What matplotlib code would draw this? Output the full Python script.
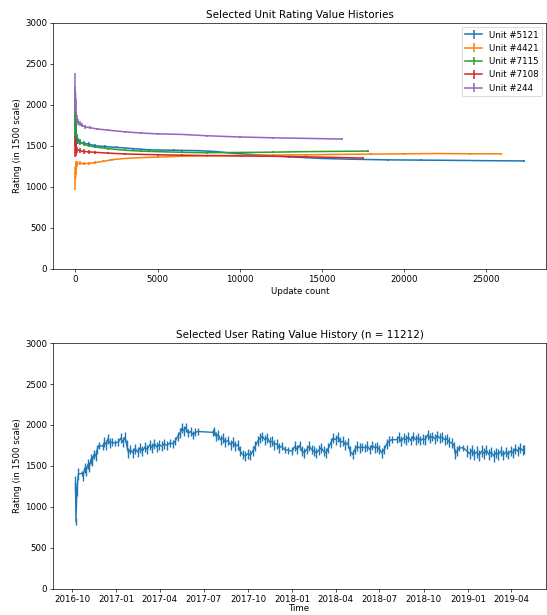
import numpy as np
import pandas as pd
import matplotlib
matplotlib.use("Agg")
import matplotlib.pyplot as plt

# ---- unit rating histories (update count, rating, error) ----
unit_names = ["Unit #5121", "Unit #4421", "Unit #7115", "Unit #7108", "Unit #244"]

u5121_x = [0, 30, 80, 150, 300, 500, 800, 1200, 1800, 2500, 3500, 4500, 6000, 7500, 8500,
           9500, 11000, 13000, 15000, 17000, 19000, 21000, 23000, 25000, 27300]
u5121_y = [1800, 1650, 1580, 1560, 1540, 1530, 1520, 1500, 1490, 1480, 1465, 1450, 1445, 1440, 1430,
           1410, 1390, 1365, 1345, 1335, 1328, 1325, 1322, 1318, 1315]
u5121_e = [300, 100, 60, 40, 30, 25, 20, 18, 15, 12, 12, 10, 10, 10, 10,
           10, 10, 10, 10, 10, 10, 10, 10, 10, 10]

u4421_x = [0, 20, 60, 120, 250, 500, 800, 1200, 1700, 2200, 3000, 4000, 5000, 6500, 8000,
           10000, 12000, 14000, 16000, 18000, 20000, 22000, 24000, 25900]
u4421_y = [1100, 1220, 1260, 1280, 1290, 1280, 1285, 1295, 1310, 1330, 1345, 1355, 1362, 1372, 1378,
           1383, 1386, 1390, 1395, 1398, 1402, 1405, 1402, 1402]
u4421_e = [140, 80, 50, 40, 30, 20, 15, 15, 12, 12, 10, 10, 10, 10, 10,
           10, 10, 10, 10, 10, 10, 10, 10, 10]

u7115_x = [0, 20, 60, 120, 250, 500, 800, 1200, 2000, 3000, 4000, 5000, 6500, 8000, 10000,
           12000, 14000, 16000, 17800]
u7115_y = [1900, 1700, 1620, 1580, 1550, 1520, 1500, 1485, 1465, 1445, 1435, 1428, 1420, 1415, 1418,
           1422, 1428, 1432, 1435]
u7115_e = [320, 120, 60, 40, 30, 25, 20, 15, 12, 12, 10, 10, 10, 10, 10,
           10, 10, 10, 10]

u7108_x = [0, 20, 60, 120, 250, 500, 800, 1200, 2000, 3000, 4000, 5000, 6500, 8000, 10000,
           12000, 14000, 16000, 17500]
u7108_y = [1490, 1480, 1460, 1450, 1440, 1430, 1425, 1420, 1410, 1400, 1395, 1390, 1385, 1380, 1375,
           1372, 1365, 1357, 1350]
u7108_e = [130, 100, 60, 40, 30, 25, 20, 15, 12, 12, 10, 10, 10, 10, 10,
           10, 10, 10, 10]

u244_x = [0, 15, 40, 80, 150, 250, 400, 600, 900, 1300, 2000, 3000, 4000, 5000, 6500,
          8000, 10000, 12000, 14000, 16200]
u244_y = [2150, 1950, 1870, 1830, 1790, 1770, 1750, 1730, 1720, 1705, 1690, 1670, 1655, 1645, 1638,
          1622, 1607, 1597, 1590, 1582]
u244_e = [240, 120, 60, 50, 40, 30, 25, 20, 15, 12, 10, 10, 10, 10, 10,
          10, 10, 10, 10, 10]

# ---- single user rating history (date, rating, error) ----
user_dates = [
    "2016-10-08", "2016-10-09", "2016-10-11", "2016-10-14", "2016-10-22", "2016-10-24", "2016-10-27",
    "2016-10-30", "2016-11-03", "2016-11-06", "2016-11-09", "2016-11-12", "2016-11-15", "2016-11-19",
    "2016-11-22", "2016-11-26", "2016-12-04", "2016-12-07", "2016-12-11", "2016-12-14", "2016-12-18",
    "2016-12-22", "2016-12-28", "2017-01-05", "2017-01-10", "2017-01-14", "2017-01-19", "2017-01-22",
    "2017-01-26", "2017-01-30", "2017-02-04", "2017-02-09", "2017-02-14", "2017-02-19", "2017-02-24",
    "2017-03-01", "2017-03-06", "2017-03-11", "2017-03-16", "2017-03-21", "2017-03-26", "2017-03-31",
    "2017-04-05", "2017-04-10", "2017-04-16", "2017-04-22", "2017-04-28", "2017-05-03", "2017-05-08",
    "2017-05-13", "2017-05-17", "2017-05-21", "2017-05-25", "2017-05-30", "2017-06-04", "2017-06-09",
    "2017-06-14", "2017-06-19", "2017-07-20", "2017-07-23", "2017-07-27", "2017-07-31", "2017-08-05",
    "2017-08-10", "2017-08-15", "2017-08-20", "2017-08-26", "2017-08-31", "2017-09-05", "2017-09-10",
    "2017-09-15", "2017-09-20", "2017-09-25", "2017-10-01", "2017-10-06", "2017-10-11", "2017-10-16",
    "2017-10-21", "2017-10-26", "2017-10-31", "2017-11-05", "2017-11-10", "2017-11-15", "2017-11-20",
    "2017-11-25", "2017-11-30", "2017-12-05", "2017-12-10", "2017-12-16", "2017-12-24", "2018-01-01",
    "2018-01-06", "2018-01-11", "2018-01-16", "2018-01-21", "2018-01-26", "2018-01-31", "2018-02-05",
    "2018-02-10", "2018-02-15", "2018-02-20", "2018-02-25", "2018-03-02", "2018-03-07", "2018-03-12",
    "2018-03-17", "2018-03-22", "2018-03-27", "2018-04-01", "2018-04-06", "2018-04-11", "2018-04-16",
    "2018-04-21", "2018-04-26", "2018-05-01", "2018-05-06", "2018-05-11", "2018-05-16", "2018-05-21",
    "2018-05-26", "2018-06-01", "2018-06-06", "2018-06-11", "2018-06-16", "2018-06-21", "2018-06-26",
    "2018-07-01", "2018-07-06", "2018-07-11", "2018-07-16", "2018-07-21", "2018-07-26", "2018-08-06",
    "2018-08-10", "2018-08-15", "2018-08-20", "2018-08-25", "2018-08-30", "2018-09-04", "2018-09-09",
    "2018-09-14", "2018-09-19", "2018-09-24", "2018-09-29", "2018-10-04", "2018-10-09", "2018-10-14",
    "2018-10-19", "2018-10-24", "2018-10-29", "2018-11-03", "2018-11-08", "2018-11-13", "2018-11-18",
    "2018-11-23", "2018-11-28", "2018-12-03", "2018-12-05", "2018-12-09", "2018-12-13", "2018-12-22",
    "2018-12-30", "2019-01-04", "2019-01-09", "2019-01-14", "2019-01-19", "2019-01-24", "2019-01-29",
    "2019-02-03", "2019-02-08", "2019-02-13", "2019-02-18", "2019-02-23", "2019-02-28", "2019-03-05",
    "2019-03-10", "2019-03-15", "2019-03-20", "2019-03-25", "2019-03-30", "2019-04-04", "2019-04-09",
    "2019-04-14", "2019-04-19", "2019-04-24", "2019-04-27",
]
user_rating = [
    1280, 820, 1220, 1400, 1410, 1380, 1470,
    1440, 1520, 1490, 1580, 1560, 1640, 1620,
    1700, 1750, 1740, 1790, 1760, 1830, 1780,
    1790, 1780, 1790, 1840, 1790, 1850, 1760,
    1660, 1700, 1660, 1710, 1670, 1720, 1680,
    1730, 1700, 1760, 1720, 1770, 1730, 1760,
    1740, 1770, 1750, 1780, 1770, 1800, 1860,
    1900, 1960, 1930, 1970, 1900, 1920, 1880,
    1910, 1920, 1910, 1930, 1860, 1880, 1820,
    1840, 1790, 1810, 1760, 1790, 1740, 1760,
    1680, 1640, 1620, 1650, 1630, 1680, 1740,
    1800, 1840, 1860, 1820, 1840, 1790, 1800,
    1760, 1770, 1720, 1740, 1700, 1690, 1680,
    1740, 1700, 1750, 1680, 1660, 1700, 1740,
    1700, 1680, 1660, 1690, 1720, 1680, 1660,
    1720, 1780, 1840, 1820, 1850, 1790, 1800,
    1760, 1780, 1680, 1640, 1700, 1740, 1720,
    1730, 1720, 1740, 1700, 1750, 1720, 1730,
    1700, 1660, 1700, 1770, 1800, 1820, 1820,
    1850, 1800, 1840, 1820, 1850, 1810, 1860,
    1820, 1840, 1810, 1830, 1820, 1880, 1840,
    1860, 1830, 1870, 1840, 1850, 1820, 1830,
    1790, 1780, 1750, 1650, 1680, 1720, 1720,
    1680, 1650, 1690, 1640, 1670, 1630, 1680,
    1650, 1690, 1640, 1670, 1620, 1660, 1640,
    1680, 1630, 1670, 1640, 1680, 1660, 1710,
    1680, 1720, 1690, 1700,
]
user_err = [
    90, 40, 90, 70, 30, 60, 60,
    60, 60, 60, 60, 60, 60, 60,
    60, 40, 40, 60, 60, 60, 60,
    50, 40, 50, 60, 60, 60, 60,
    60, 60, 60, 60, 60, 60, 60,
    60, 60, 60, 60, 60, 60, 60,
    60, 60, 60, 50, 50, 50, 60,
    60, 60, 60, 50, 50, 50, 50,
    50, 40, 40, 50, 60, 60, 60,
    60, 60, 60, 60, 60, 60, 60,
    60, 60, 60, 60, 60, 60, 60,
    60, 60, 60, 60, 60, 60, 60,
    60, 60, 60, 50, 40, 40, 50,
    60, 60, 60, 60, 60, 60, 60,
    60, 60, 60, 60, 60, 60, 60,
    60, 60, 60, 60, 60, 60, 60,
    60, 60, 60, 60, 60, 60, 60,
    50, 50, 60, 60, 60, 60, 60,
    60, 60, 60, 60, 60, 40, 40,
    60, 60, 60, 60, 60, 60, 60,
    60, 60, 60, 60, 60, 60, 60,
    60, 60, 60, 60, 60, 60, 60,
    60, 60, 40, 60, 60, 40, 40,
    70, 70, 70, 70, 70, 70, 70,
    70, 60, 70, 60, 70, 60, 70,
    60, 60, 60, 60, 60, 60, 60,
    60, 60, 60, 60,
]

dpi = 62
fig = plt.figure(figsize=(547 / dpi, 615 / dpi), dpi=dpi)
ax1 = fig.add_axes([0.097, 0.563, 0.902, 0.400])
ax2 = fig.add_axes([0.097, 0.043, 0.902, 0.399])

units = [
    (u5121_x, u5121_y, u5121_e),
    (u4421_x, u4421_y, u4421_e),
    (u7115_x, u7115_y, u7115_e),
    (u7108_x, u7108_y, u7108_e),
    (u244_x, u244_y, u244_e),
]
for name, (x, y, e) in zip(unit_names, units):
    ax1.errorbar(x, y, yerr=e, label=name, linewidth=1.8)
ax1.set_ylim(0, 3000)
ax1.set_title("Selected Unit Rating Value Histories")
ax1.set_xlabel("Update count")
ax1.set_ylabel("Rating (in 1500 scale)")
ax1.legend(loc="upper right")

dates = pd.to_datetime(user_dates)
ax2.errorbar(dates, user_rating, yerr=user_err, color="tab:blue", linewidth=1.6)
ax2.set_ylim(0, 3000)
ax2.set_title("Selected User Rating Value History (n = 11212)")
ax2.set_xlabel("Time", labelpad=1)
ax2.set_ylabel("Rating (in 1500 scale)")

fig.savefig("out.png", dpi=dpi)
